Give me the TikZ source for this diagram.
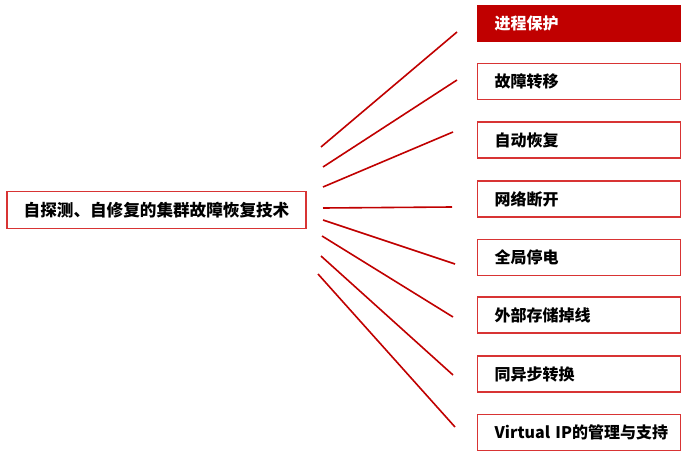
\documentclass[tikz,border=0pt]{standalone}
\usepackage{fontspec}
\setmainfont{Noto Sans CJK SC}
\definecolor{darkred}{HTML}{C00000}
\definecolor{edgered}{HTML}{D83434}

\begin{document}
\begin{tikzpicture}[x=1pt,y=-1pt,
  item/.style={draw=edgered,line width=1.3pt,minimum height=36pt,
    inner xsep=0pt,text width=203pt,align=left,anchor=west,
    execute at begin node=\hspace*{17pt},
    font=\fontsize{16}{18}\selectfont\bfseries},
  topitem/.style={item,fill=darkred,draw=darkred,text=white},
  rootbox/.style={draw=edgered,line width=1.3pt,minimum width=299pt,minimum height=37pt,
    font=\fontsize{16.6}{20}\selectfont\bfseries},
  spoke/.style={darkred,line width=1.6pt}]
\useasboundingbox (0,0) rectangle (688,460);

\node[rootbox] (root) at (156.5,210) {自探测、自修复的集群故障恢复技术};

\node[topitem] (b1) at (477,23.5) {进程保护};
\node[item] (b2) at (477,81.5) {故障转移};
\node[item] (b3) at (477,140) {自动恢复};
\node[item] (b4) at (477,199) {网络断开};
\node[item] (b5) at (477,257.5) {全局停电};
\node[item] (b6) at (477,315) {外部存储掉线};
\node[item] (b7) at (477,374) {同异步转换};
\node[item] (b8) at (477,432.5) {Virtual IP的管理与支持};

% spokes, free at both ends
\foreach \i/\sx/\sy/\ex/\ey in {1/321/147/457/32, 2/323/167/457/80, 3/323/187/453/132,
    4/323/208/452/207, 5/323/220/455/264, 6/322/236/453/317,
    7/321/256/453/375, 8/318/274/455/427} {
  \coordinate (s\i) at (\sx,\sy);
  \coordinate (e\i) at (\ex,\ey);
  \draw[spoke] (s\i) -- (e\i);
}
\end{tikzpicture}
\end{document}
